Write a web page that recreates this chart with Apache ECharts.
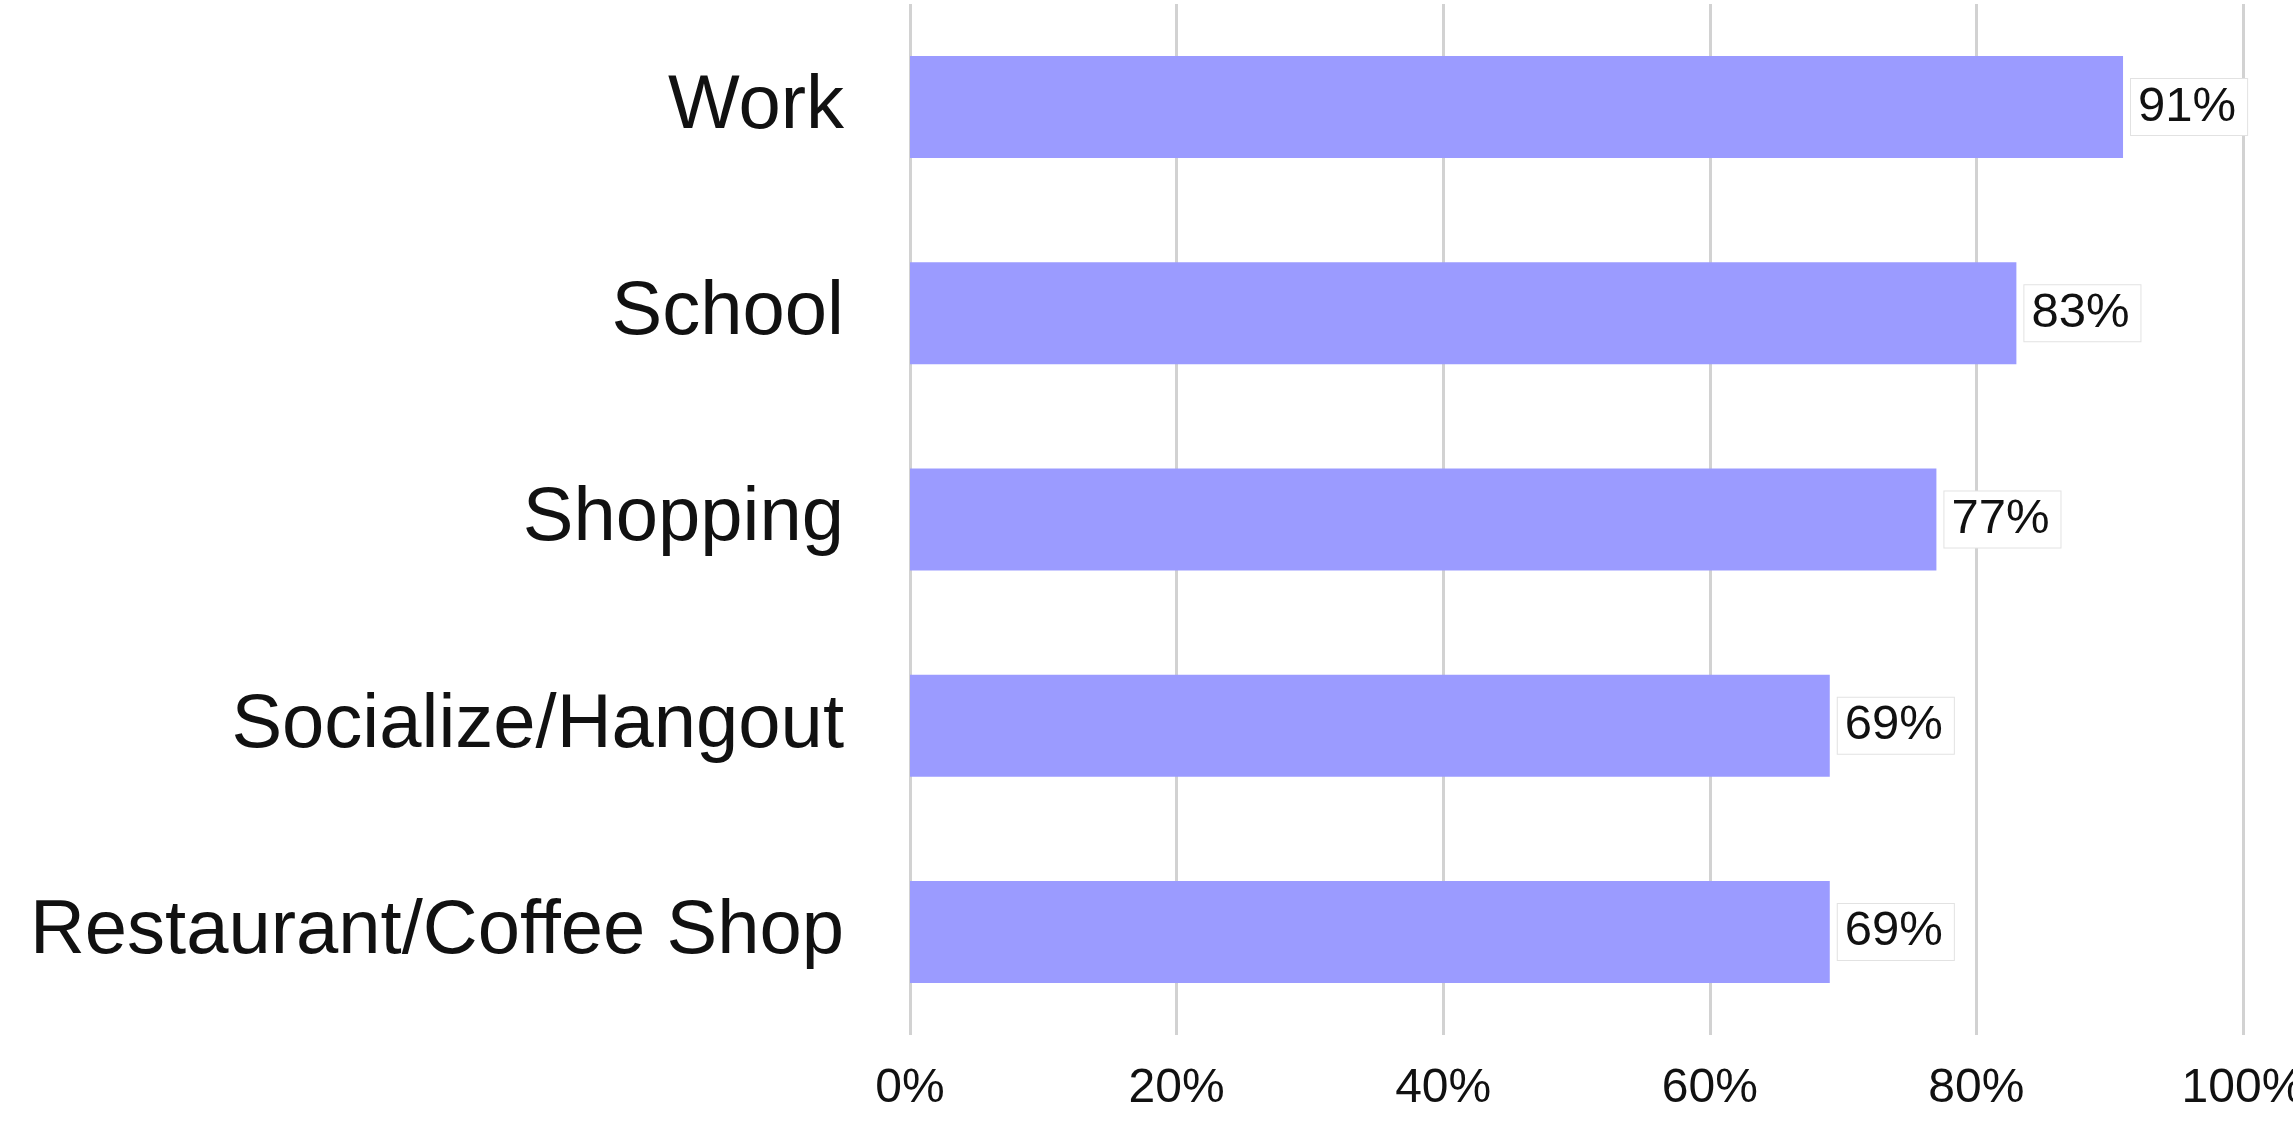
<!DOCTYPE html>
<html>
<head>
<meta charset="utf-8">
<style>
  html, body { margin: 0; padding: 0; background: #ffffff; overflow: hidden; }
  #chart { width: 2293px; height: 1126px; }
</style>
<script src="https://cdn.jsdelivr.net/npm/echarts@6/dist/echarts.min.js"></script>
</head>
<body>
<div id="chart"></div>
<script>
// Places, listed top to bottom
const categories = ['Work', 'School', 'Shopping', 'Socialize/Hangout', 'Restaurant/Coffee Shop'];
// Share of respondents, percent
const values = [91, 83, 77, 69, 69];
// Value-axis ticks
const tickValues = [0, 20, 40, 60, 80, 100];

const chart = echarts.init(document.getElementById('chart'), null, { renderer: 'canvas' });
const fontFamily = '"Liberation Sans", Arial, Helvetica, sans-serif';

chart.setOption({
  animation: false,
  backgroundColor: '#ffffff',
  grid: {
    left: 910, right: 50, top: 4, bottom: 91,
    containLabel: false,
    outerBoundsMode: 'none'
  },
  xAxis: {
    type: 'value',
    min: tickValues[0],
    max: tickValues[tickValues.length - 1],
    interval: tickValues[1] - tickValues[0],
    axisLine: { show: false },
    axisTick: { show: false },
    axisLabel: {
      formatter: v => v + '%',
      fontSize: 48,
      fontFamily: fontFamily,
      color: '#111111',
      margin: 30,
      hideOverlap: false
    },
    splitLine: { show: true, lineStyle: { color: '#d2d2d2', width: 3 } }
  },
  yAxis: {
    type: 'category',
    data: categories,
    inverse: true,
    axisLine: { show: false },
    axisTick: { show: false },
    axisLabel: {
      fontSize: 76,
      fontFamily: fontFamily,
      color: '#111111',
      margin: 66
    },
    splitLine: { show: false }
  },
  series: [{
    type: 'bar',
    data: values,
    barWidth: 102,
    itemStyle: { color: '#9b9bff' },
    label: {
      show: true,
      position: 'right',
      distance: 8,
      formatter: p => p.value + '%',
      fontSize: 49,
      fontFamily: fontFamily,
      color: '#111111',
      backgroundColor: '#ffffff',
      borderColor: '#e2e2e2',
      borderWidth: 1,
      padding: [4, 11, 3, 7]
    }
  }]
});
</script>
</body>
</html>
